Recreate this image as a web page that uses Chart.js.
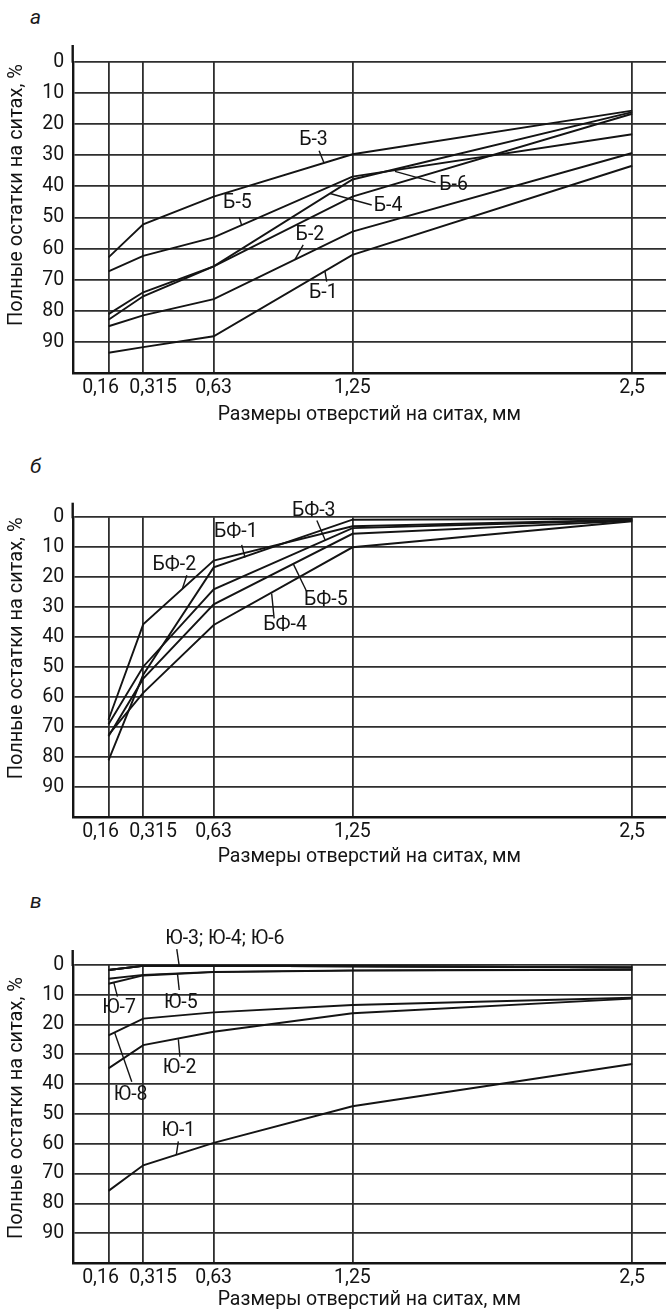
<!DOCTYPE html>
<html><head><meta charset="utf-8">
<script src="https://cdn.jsdelivr.net/npm/chart.js@4.4.1/dist/chart.umd.min.js"></script>
<style>
html,body{margin:0;padding:0;background:#fff;}
body{width:666px;height:1310px;position:relative;overflow:hidden;font-family:Roboto,sans-serif;color:#1a1a1a;}
canvas{position:absolute;left:0;}
.letter{position:absolute;font-family:Roboto,sans-serif;font-style:italic;font-size:21px;line-height:21px;color:#1a1a1a;}
</style></head><body>
<div class="letter" style="left:30px;top:7px;">а</div>
<div class="letter" style="left:30px;top:456px;">б</div>
<div class="letter" style="left:30px;top:891px;">в</div>
<canvas id="cA" width="666" height="430" style="top:0px"></canvas>
<canvas id="cB" width="666" height="430" style="top:440px"></canvas>
<canvas id="cC" width="666" height="430" style="top:880px"></canvas>
<script>
// ---------- shared axes ----------
const sieveSizes = [0.16, 0.315, 0.63, 1.25, 2.5];
const sieveTickLabels = ['0,16', '0,315', '0,63', '1,25', '2,5'];
const residueTickLabels = ['0','10','20','30','40','50','60','70','80','90'];
const xAxisTitle = 'Размеры отверстий на ситах, мм';
const yAxisTitle = 'Полные остатки на ситах, %';

// ---------- panel а ----------
const namesA = ['Б-1','Б-2','Б-3','Б-4','Б-5','Б-6'];
const b1 = [93.4, 91.6, 88.1, 62.0, 33.4];
const b2 = [84.9, 81.4, 76.2, 54.5, 29.3];
const b3 = [62.8, 52.2, 43.3, 29.7, 15.7];
const b4 = [81.0, 74.0, 65.7, 37.8, 16.2];
const b5 = [67.3, 62.3, 56.4, 36.9, 23.3];
const b6 = [82.8, 75.3, 65.7, 43.3, 16.7];

// ---------- panel б ----------
const namesB = ['БФ-1','БФ-2','БФ-3','БФ-4','БФ-5'];
const bf1 = [81.0, 52.5, 16.7, 0.8, 0.5];
const bf2 = [67.5, 35.7, 14.4, 3.0, 0.8];
const bf3 = [69.0, 49.8, 24.0, 3.6, 1.0];
const bf4 = [72.5, 58.5, 35.9, 10.0, 1.3];
const bf5 = [73.0, 53.8, 29.0, 5.5, 1.2];

// ---------- panel в ----------
const namesC = ['Ю-1','Ю-2','Ю-3','Ю-4','Ю-6','Ю-5','Ю-7','Ю-8'];
const yu1 = [75.8, 67.2, 59.7, 47.4, 33.2];
const yu2 = [34.7, 26.9, 22.4, 16.2, 11.3];
const yu3 = [1.7, 0.3, 0.3, 0.4, 0.8];
const yu4 = [1.7, 0.3, 0.3, 0.4, 0.8];
const yu6 = [1.7, 0.3, 0.3, 0.4, 0.8];
const yu5 = [4.6, 3.3, 2.3, 1.8, 1.5];
const yu7 = [6.3, 3.5, 2.4, 1.9, 1.6];
const yu8 = [23.6, 18.0, 15.9, 13.4, 11.0];

// ---------- callout labels (data units) ----------
const calloutsA = [
  {t:'Б-3', x:1.076, y:25.1, l:[1.101,28.6,1.123,32.5]},
  {t:'Б-5', x:0.736, y:45.3, l:[0.744,49.9,0.755,52.5]},
  {t:'Б-4', x:1.409, y:46.3, l:[1.336,46.0,1.15,42.3]},
  {t:'Б-6', x:1.702, y:39.6, l:[1.621,38.8,1.44,35.2]},
  {t:'Б-2', x:1.060, y:55.6, l:[1.03,58.8,0.993,63.5]},
  {t:'Б-1', x:1.120, y:74.3, l:[1.135,70.6,1.127,67.2]}
];
const calloutsB = [
  {t:'БФ-3', x:1.077, y:-2.2, l:[1.091,1.1,1.128,7.6]},
  {t:'БФ-1', x:0.729, y:5.1, l:[0.755,9.2,0.77,13.4]},
  {t:'БФ-2', x:0.454, y:15.9, l:[0.51,19.3,0.49,23.8]},
  {t:'БФ-5', x:1.131, y:27.6, l:[1.046,24.8,0.986,15.6]},
  {t:'БФ-4', x:0.949, y:35.9, l:[0.9,33.7,0.889,25.4]}
];
const calloutsC = [
  {t:'Ю-3; Ю-4; Ю-6', x:0.68, y:-8.6, l:[0.465,-5.3,0.476,0.3]},
  {t:'Ю-5', x:0.483, y:12.9, l:[0.476,8.4,0.468,2.8]},
  {t:'Ю-7', x:0.207, y:14.5, l:[0.2,10.6,0.184,6.0]},
  {t:'Ю-2', x:0.478, y:34.7, l:[0.479,30.8,0.472,24.9]},
  {t:'Ю-8', x:0.259, y:43.6, l:[0.264,39.2,0.188,22.8]},
  {t:'Ю-1', x:0.472, y:55.9, l:[0.472,59.2,0.463,63.6]}
];
// horizontal nudges of the crowded x tick labels (px)
const xLabelNudge = [-8, 10, 0, 0, 0];

const INK = '#141414';
const GRID = '#2e2e2e';
const FONT = 'Roboto, sans-serif';

const calloutPlugin = {
  id: 'callouts',
  beforeDraw(chart) {
    const items = chart.scales.x.getLabelItems();
    items.forEach((it, i) => {
      if (!it._nudged) { it.options.translation[0] += xLabelNudge[i] || 0; it._nudged = true; }
    });
  },
  afterDatasetsDraw(chart, args, opts) {
    const ctx = chart.ctx, xs = chart.scales.x, ys = chart.scales.y;
    ctx.save();
    ctx.strokeStyle = INK; ctx.lineWidth = 1.4;
    ctx.fillStyle = INK;
    ctx.font = '19.5px ' + FONT;
    ctx.textAlign = 'center'; ctx.textBaseline = 'middle';
    (opts.items || []).forEach(it => {
      ctx.beginPath();
      ctx.moveTo(xs.getPixelForValue(it.l[0]), ys.getPixelForValue(it.l[1]));
      ctx.lineTo(xs.getPixelForValue(it.l[2]), ys.getPixelForValue(it.l[3]));
      ctx.stroke();
      ctx.fillText(it.t, xs.getPixelForValue(it.x), ys.getPixelForValue(it.y));
    });
    ctx.restore();
  }
};
const axisExtPlugin = {
  id: 'axisExt',
  afterDraw(chart, args, opts) {
    const ctx = chart.ctx, a = chart.chartArea;
    ctx.save();
    ctx.strokeStyle = INK; ctx.lineWidth = 2.4;
    ctx.beginPath();
    ctx.moveTo(a.left, a.top - opts.ext);
    ctx.lineTo(a.left, a.top + 1);
    ctx.stroke();
    ctx.translate(opts.titleX, opts.titleY);
    ctx.rotate(-Math.PI / 2);
    ctx.fillStyle = INK;
    ctx.font = '20px ' + FONT;
    ctx.textAlign = 'center'; ctx.textBaseline = 'middle';
    ctx.fillText(yAxisTitle, 0, 0);
    ctx.restore();
  }
};

function makeChart(id, names, series, callouts, geo) {
  const datasets = series.map((vals, i) => ({
    label: names[i],
    data: sieveSizes.map((s, j) => ({x: s, y: vals[j]})),
    borderColor: INK, borderWidth: 1.9, pointRadius: 0, tension: 0, fill: false
  }));
  return new Chart(document.getElementById(id), {
    type: 'line',
    data: {datasets},
    options: {
      responsive: false, animation: false, events: [],
      layout: {padding: {top: geo.top, left: 0, right: 0, bottom: 0}},
      plugins: {
        legend: {display: false}, tooltip: {enabled: false},
        callouts: {items: callouts},
        axisExt: {ext: geo.ext, titleX: 17, titleY: geo.titleY}
      },
      scales: {
        x: {
          type: 'linear', min: 0, max: 2.651,
          afterBuildTicks: s => { s.ticks = sieveSizes.map(v => ({value: v})); },
          afterFit: s => { s.height = geo.xh; },
          ticks: {autoSkip: false, maxRotation: 0, padding: 5, color: INK,
                  font: {family: FONT, size: 19.5, lineHeight: 1},
                  callback: (v, i) => sieveTickLabels[i]},
          grid: {color: GRID, lineWidth: 1.8, drawTicks: false},
          border: {color: INK, width: 2.4},
          title: {display: true, text: xAxisTitle, color: INK,
                  font: {family: FONT, size: 19.5, lineHeight: 1},
                  padding: {top: 0, bottom: geo.titlePad}}
        },
        y: {
          type: 'linear', min: 0, max: 100, reverse: true,
          afterBuildTicks: s => { s.ticks = [0,10,20,30,40,50,60,70,80,90,100].map(v => ({value: v})); },
          afterFit: s => { s.width = 72.7; },
          ticks: {padding: 8.5, color: INK, font: {family: FONT, size: 19.5, lineHeight: 1},
                  callback: (v, i) => (i < residueTickLabels.length ? residueTickLabels[i] : '')},
          grid: {color: GRID, lineWidth: 1.8, drawTicks: false},
          border: {color: INK, width: 2.4}
        }
      }
    },
    plugins: [calloutPlugin, axisExtPlugin]
  });
}

makeChart('cA', namesA, [b1,b2,b3,b4,b5,b6], calloutsA,
  {top: 61.7, xh: 430 - 373.3, titlePad: 5.5, ext: 16.7, titleY: 195});
makeChart('cB', namesB, [bf1,bf2,bf3,bf4,bf5], calloutsB,
  {top: 77.3, xh: 430 - 377.3, titlePad: 3.5, ext: 14.6, titleY: 648.3 - 440});
makeChart('cC', namesC, [yu1,yu2,yu3,yu4,yu6,yu5,yu7,yu8], calloutsC,
  {top: 85, xh: 430 - 383, titlePad: 0.5, ext: 15, titleY: 1108 - 880});
</script>
</body></html>
